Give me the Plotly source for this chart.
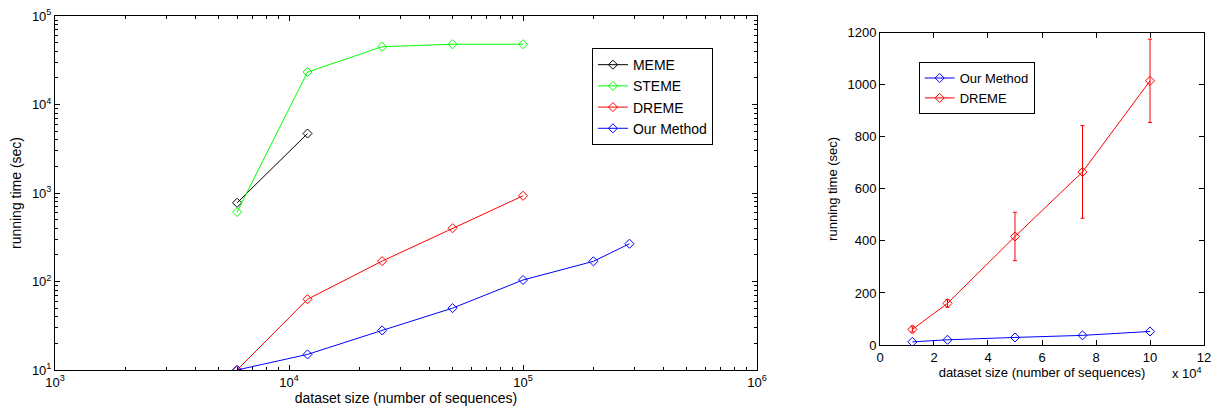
import plotly.graph_objects as go

# Left plot (log-log)
meme_x = [6000, 12000]
meme_y = [775, 4700]
steme_x = [6000, 12000, 25000, 50000, 100000]
steme_y = [610, 23300, 45000, 48000, 48000]
dreme_x = [6000, 12000, 25000, 50000, 100000]
dreme_y = [10, 63, 170, 400, 930]
our_x = [6000, 12000, 25000, 50000, 100000, 200000, 285000]
our_y = [10, 15, 28, 50, 104, 169, 267]

# Right plot (linear)
r_x = [12000, 25000, 50000, 75000, 100000]
r_our_y = [12, 20, 29, 37, 52]
r_dreme_y = [60, 160, 417, 665, 1015]
r_dreme_err = [10, 15, 93, 178, 160]

left_xticks = [1e3, 1e4, 1e5, 1e6]
left_xticktext = ["10<sup>3</sup>", "10<sup>4</sup>", "10<sup>5</sup>", "10<sup>6</sup>"]
left_yticks = [1e1, 1e2, 1e3, 1e4, 1e5]
left_yticktext = ["10<sup>1</sup>", "10<sup>2</sup>", "10<sup>3</sup>", "10<sup>4</sup>", "10<sup>5</sup>"]
right_xticks = [0, 20000, 40000, 60000, 80000, 100000, 120000]
right_xticktext = ["0", "2", "4", "6", "8", "10", "12"]
right_yticks = [0, 200, 400, 600, 800, 1000, 1200]

FONT = "Liberation Sans, Arial, sans-serif"
LF = 14   # left plot font size
RF = 13   # right plot font size

def minor_log(lo, hi):
    vals = []
    d = lo
    while d < hi:
        for k in range(2, 10):
            vals.append(k * d)
        d *= 10
    return vals

fig = go.Figure()

def add(x, y, color, name, xa, ya, legend, err=None):
    tr = go.Scatter(
        x=x, y=y, mode="lines+markers", name=name,
        line=dict(color=color, width=1),
        marker=dict(symbol="diamond-open", size=7, color=color, line=dict(width=1, color=color)),
        xaxis=xa, yaxis=ya, legend=legend,
    )
    if err is not None:
        tr.error_y = dict(type="data", array=err, visible=True, color=color, thickness=1, width=2)
    fig.add_trace(tr)

add(meme_x, meme_y, "#000000", "MEME", "x", "y", "legend")
add(steme_x, steme_y, "#00ff00", "STEME", "x", "y", "legend")
add(dreme_x, dreme_y, "#ff0000", "DREME", "x", "y", "legend")
add(our_x, our_y, "#0000ff", "Our Method", "x", "y", "legend")

add(r_x, r_our_y, "#0000ff", "Our Method", "x2", "y2", "legend2")
add(r_x, r_dreme_y, "#ff0000", "DREME", "x2", "y2", "legend2", err=r_dreme_err)

def axis_common(fs):
    return dict(
        showline=True, linecolor="black", linewidth=1, mirror="ticks",
        ticks="inside", ticklen=5, tickcolor="black", tickwidth=1,
        showgrid=False, zeroline=False, automargin=False,
        tickfont=dict(family=FONT, size=fs, color="black"),
    )

fig.update_layout(
    width=1220, height=411,
    margin=dict(l=0, r=0, t=0, b=0),
    paper_bgcolor="white", plot_bgcolor="white",
    font=dict(family=FONT, size=12, color="black"),
    showlegend=True,
    xaxis=dict(
        **axis_common(LF - 1), type="log", domain=[0.0451, 0.6205],
        range=[3, 6], tickmode="array", tickvals=left_xticks, ticktext=left_xticktext,
        minor=dict(tickmode="array", tickvals=minor_log(1e3, 1e6), ticks="inside", ticklen=3, tickcolor="black"),
        title=dict(text="dataset size (number of sequences)", font=dict(family=FONT, size=LF), standoff=4),
        anchor="y",
    ),
    yaxis=dict(
        **axis_common(LF - 1), type="log", domain=[0.0998, 0.961],
        range=[1, 5], tickmode="array", tickvals=left_yticks, ticktext=left_yticktext,
        minor=dict(tickmode="array", tickvals=minor_log(1e1, 1e5), ticks="inside", ticklen=3, tickcolor="black"),
        title=dict(text="running time (sec)", font=dict(family=FONT, size=LF), standoff=6),
        anchor="x",
    ),
    xaxis2=dict(
        **axis_common(RF), domain=[0.7213, 0.9869],
        range=[0, 120000], tickmode="array", tickvals=right_xticks, ticktext=right_xticktext,
        title=dict(text="dataset size (number of sequences)", font=dict(family=FONT, size=RF), standoff=2),
        anchor="y2",
    ),
    yaxis2=dict(
        **axis_common(RF), domain=[0.1606, 0.9204],
        range=[0, 1200], tickmode="array", tickvals=right_yticks,
        title=dict(text="running time (sec)", font=dict(family=FONT, size=RF), standoff=6),
        anchor="x2",
    ),
    legend=dict(
        x=0.4852, y=0.883, xanchor="left", yanchor="top",
        bordercolor="black", borderwidth=1, bgcolor="white",
        font=dict(family=FONT, size=LF), tracegroupgap=0, itemwidth=30,
    ),
    legend2=dict(
        x=0.753, y=0.849, xanchor="left", yanchor="top",
        bordercolor="black", borderwidth=1, bgcolor="white",
        font=dict(family=FONT, size=RF), tracegroupgap=0, itemwidth=30,
    ),
)

fig.add_annotation(
    text="x 10<sup>4</sup>", xref="paper", yref="paper",
    x=0.9869, y=0.118, xanchor="right", yanchor="top", showarrow=False,
    font=dict(family=FONT, size=RF, color="black"),
)

fig.write_html(
    "out.html",
    config={"displayModeBar": False},
    post_script="document.body.style.margin='0px';document.body.style.overflow='hidden';",
)
